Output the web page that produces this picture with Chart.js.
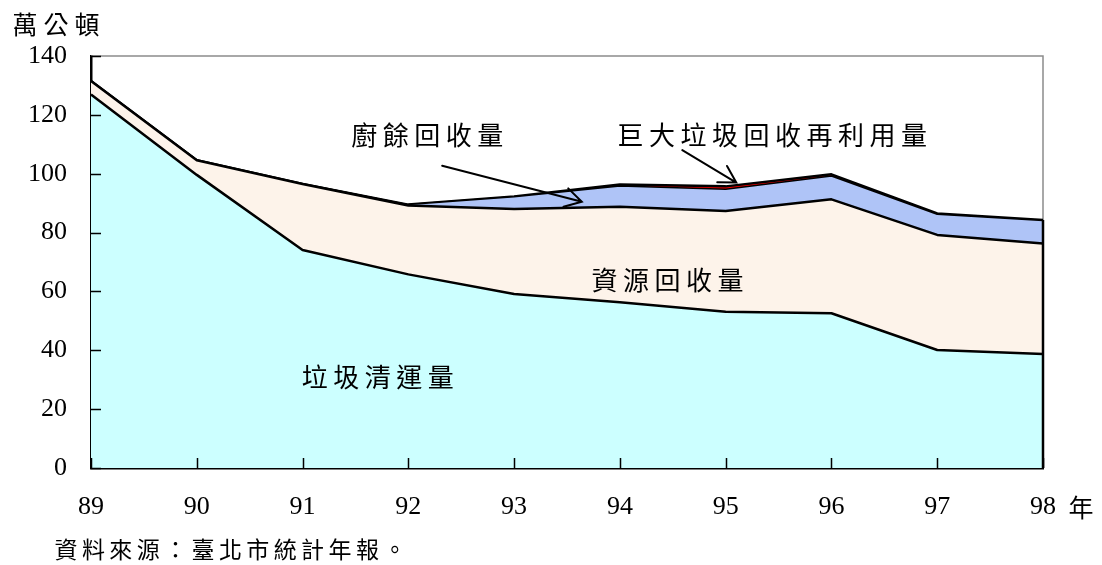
<!DOCTYPE html>
<html>
<head>
<meta charset="utf-8">
<script src="https://cdn.jsdelivr.net/npm/chart.js@4.4.1/dist/chart.umd.min.js"></script>
<style>
  html, body { margin: 0; padding: 0; background: #ffffff; }
  canvas { display: block; }
</style>
</head>
<body>
<canvas id="chart" width="1102" height="565"></canvas>
<script>
// 臺北市垃圾清運與回收量（萬公噸），民國 89–98 年
const years = ['89', '90', '91', '92', '93', '94', '95', '96', '97', '98'];
const garbage   = [126.9, 99.6, 74.1, 65.8, 59.1, 56.3, 53.1, 52.6, 40.1, 38.7]; // 垃圾清運量
const recycling = [4.6, 5.0, 22.4, 23.4, 28.9, 32.5, 34.2, 38.7, 39.1, 37.6];    // 資源回收量
const kitchen   = [0, 0, 0, 0.3, 4.2, 7.0, 7.4, 7.9, 7.0, 7.8];                  // 廚餘回收量
const bulky     = [0, 0, 0, 0, 0.1, 0.5, 1.0, 0.6, 0.3, 0.2];                    // 巨大垃圾回收再利用量
const yMin = 0, yMax = 140, yStep = 20;

const SERIF = '"Liberation Serif", "Times New Roman", serif';
const CJK = '"Noto Sans CJK TC", "Noto Sans CJK SC", sans-serif';

// Callouts placed in data space: [category index, value]
const callouts = [
  { text: '廚餘回收量', at: [3.18, 113.1] },
  { text: '巨大垃圾回收再利用量', at: [6.44, 113.1] },
  { text: '資源回收量', at: [5.45, 63.9] },
  { text: '垃圾清運量', at: [2.71, 31.0] }
];
const pointers = [
  { from: [3.32, 102.7], to: [4.64, 90.5] },
  { from: [5.59, 108.0], to: [6.10, 97.0] }
];

function spacedText(ctx, text, cx, cy, size, pitch) {
  ctx.font = size + 'px ' + CJK;
  ctx.fillStyle = '#000';
  ctx.textAlign = 'center';
  ctx.textBaseline = 'middle';
  const chars = Array.from(text);
  const start = cx - pitch * (chars.length - 1) / 2;
  chars.forEach((ch, i) => ctx.fillText(ch, start + i * pitch, cy));
}

function arrowLine(ctx, x0, y0, x1, y1) {
  const ang = Math.atan2(y1 - y0, x1 - x0);
  const head = 19, spread = Math.PI / 6;
  ctx.save();
  ctx.strokeStyle = '#000';
  ctx.lineWidth = 2;
  ctx.lineCap = 'round';
  ctx.beginPath();
  ctx.moveTo(x0, y0);
  ctx.lineTo(x1, y1);
  ctx.moveTo(x1 - head * Math.cos(ang - spread), y1 - head * Math.sin(ang - spread));
  ctx.lineTo(x1, y1);
  ctx.lineTo(x1 - head * Math.cos(ang + spread), y1 - head * Math.sin(ang + spread));
  ctx.stroke();
  ctx.restore();
}

const framePlugin = {
  id: 'frame',
  beforeDatasetsDraw(chart) {
    const { ctx, chartArea: a } = chart;
    ctx.save();
    ctx.strokeStyle = '#8c8c8c';
    ctx.lineWidth = 1.5;
    ctx.beginPath();
    ctx.moveTo(a.left, a.top);
    ctx.lineTo(a.right, a.top);
    ctx.lineTo(a.right, a.bottom);
    ctx.stroke();
    ctx.restore();
  },
  afterDatasetsDraw(chart) {
    const { ctx } = chart;
    const xs = chart.scales.x, ys = chart.scales.y;
    // closing edge of the stacked area at the last year
    const last = years.length - 1;
    const total = garbage[last] + recycling[last] + kitchen[last] + bulky[last];
    const xr = xs.getPixelForValue(last);
    ctx.save();
    ctx.strokeStyle = '#000';
    ctx.lineWidth = 2.5;
    ctx.beginPath();
    ctx.moveTo(xr, ys.getPixelForValue(0));
    ctx.lineTo(xr, ys.getPixelForValue(total));
    ctx.stroke();
    ctx.restore();

    pointers.forEach(p => arrowLine(ctx,
      xs.getPixelForValue(p.from[0]), ys.getPixelForValue(p.from[1]),
      xs.getPixelForValue(p.to[0]), ys.getPixelForValue(p.to[1])));
    callouts.forEach(c => spacedText(ctx, c.text,
      xs.getPixelForValue(c.at[0]), ys.getPixelForValue(c.at[1]), 26, 31.5));
  },
  afterDraw(chart) {
    const { ctx, chartArea: a } = chart;
    const xs = chart.scales.x, ys = chart.scales.y;
    // inward tick marks on both axes
    ctx.save();
    ctx.strokeStyle = '#000';
    ctx.lineWidth = 1.5;
    ctx.beginPath();
    xs.ticks.forEach((t, i) => {
      const px = Math.round(xs.getPixelForTick(i)) + 0.5;
      ctx.moveTo(px, a.bottom);
      ctx.lineTo(px, a.bottom - 10);
    });
    ys.ticks.forEach((t, i) => {
      const py = Math.round(ys.getPixelForTick(i)) + 0.5;
      ctx.moveTo(a.left, py);
      ctx.lineTo(a.left + 10, py);
    });
    ctx.stroke();
    ctx.restore();

    spacedText(ctx, '萬公頓', 56, 24, 25, 31);
    spacedText(ctx, '年', 1081, 507, 25, 0);
    const src = '資料來源：臺北市統計年報。';
    const pitch = 27.4;
    spacedText(ctx, src, 54 + 12 + pitch * 6, 549, 23, pitch);
  }
};

new Chart(document.getElementById('chart'), {
  type: 'line',
  data: {
    labels: years,
    datasets: [
      { label: '垃圾清運量', data: garbage, fill: 'origin',
        backgroundColor: '#ccffff', borderColor: '#000', borderWidth: 2.5 },
      { label: '資源回收量', data: recycling, fill: '-1',
        backgroundColor: '#fdf3ea', borderColor: '#000', borderWidth: 2.5 },
      { label: '廚餘回收量', data: kitchen, fill: '-1',
        backgroundColor: '#afc4f7', borderColor: '#000', borderWidth: 1.5 },
      { label: '巨大垃圾回收再利用量', data: bulky, fill: '-1',
        backgroundColor: '#ff0000', borderColor: '#000', borderWidth: 2.5 }
    ]
  },
  options: {
    responsive: false,
    animation: false,
    events: [],
    layout: { padding: { top: 56, right: 59, left: 0, bottom: 0 } },
    elements: {
      point: { radius: 0 },
      line: { tension: 0, borderJoinStyle: 'round' }
    },
    plugins: {
      legend: { display: false },
      tooltip: { enabled: false },
      title: { display: false }
    },
    scales: {
      x: {
        type: 'category',
        offset: false,
        z: 1,
        grid: { drawOnChartArea: false, drawTicks: false },
        border: { display: true, color: '#000', width: 2.5 },
        ticks: { color: '#000', font: { family: SERIF, size: 26 }, padding: 24, maxRotation: 0, autoSkip: false },
        afterFit(scale) { scale.height = 97; }
      },
      y: {
        stacked: true,
        min: yMin,
        max: yMax,
        z: 1,
        grid: { drawOnChartArea: false, drawTicks: false },
        border: { display: true, color: '#000', width: 2.5 },
        ticks: { stepSize: yStep, color: '#000', font: { family: SERIF, size: 26 }, padding: 24 },
        afterFit(scale) { scale.width = 91; }
      }
    }
  },
  plugins: [framePlugin]
});
</script>
</body>
</html>
